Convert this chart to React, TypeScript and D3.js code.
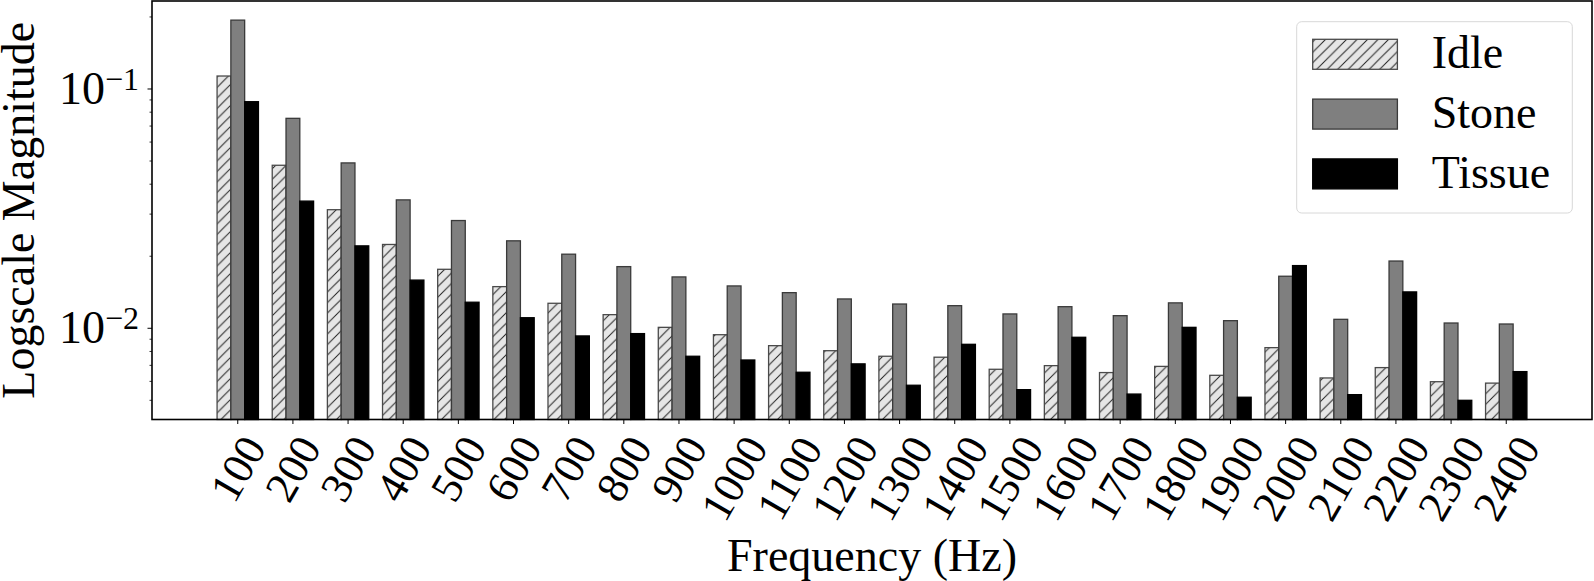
import React from 'react';
import * as d3 from 'd3';

const categories = ['100','200','300','400','500','600','700','800','900','1000','1100','1200','1300','1400','1500','1600','1700','1800','1900','2000','2100','2200','2300','2400'];
const idle = [0.1133,0.048,0.0313,0.0224,0.01764,0.01493,0.01272,0.0114,0.01009,0.0094,0.00846,0.00806,0.00764,0.00757,0.00674,0.00698,0.00653,0.00693,0.00636,0.0083,0.0062,0.00685,0.00598,0.0059];
const stone = [0.194,0.0754,0.0491,0.0344,0.0282,0.0232,0.0204,0.0181,0.01639,0.01503,0.01409,0.01326,0.01263,0.01243,0.01148,0.01231,0.01129,0.01277,0.01076,0.0165,0.0109,0.0191,0.01052,0.01042];
const tissue = [0.0885,0.034,0.0221,0.0159,0.01285,0.01107,0.00929,0.0095,0.00764,0.00737,0.00655,0.0071,0.00578,0.00857,0.00554,0.00917,0.00531,0.01009,0.00515,0.01828,0.00528,0.01419,0.005,0.00659];
const seriesNames = ['Idle','Stone','Tissue'];
const yMajorTicks = [0.1, 0.01];
const yMajorLabels = ['\u22121', '\u22122'];

const W = 1594, H = 581;
const L = 152, R = 1592, T = 1, B = 419.5;
const FONT = "'Liberation Serif', 'Times New Roman', serif";

export default function App() {
  const x = d3.scaleLinear().domain([-1.555, categories.length - 1 + 1.555]).range([L, R]);
  const y = d3.scaleLog().domain([0.004157, 0.2332]).range([B, T]);
  const step = x(1) - x(0);
  const bw = step * 0.25;

  const styles = [
    { fill: 'url(#hatch)', stroke: '#4a4a4a' },
    { fill: '#7f7f7f', stroke: '#3a3a3a' },
    { fill: '#000000', stroke: '#000000' },
  ];
  const series = [idle, stone, tissue];

  const minor: number[] = [];
  for (let d = -3; d <= 0; d++) {
    for (let k = 2; k <= 9; k++) {
      const v = k * Math.pow(10, d);
      if (v > y.domain()[0] && v < y.domain()[1]) minor.push(v);
    }
  }

  const tickFs = 44;
  const labelFs = 46;

  return (
    <svg width={W} height={H} style={{ position: 'absolute', left: 0, top: 0, background: '#fff' }} fontFamily={FONT}>
      <defs>
        <pattern id="hatch" patternUnits="userSpaceOnUse" width={10.5} height={10.5}>
          <rect width={10.5} height={10.5} fill="#e6e6e6" />
          <path d="M-1,11.5 L11.5,-1 M-2,2 L2,-2 M8.5,12.5 L12.5,8.5" stroke="#222" strokeWidth={1} />
        </pattern>
      </defs>
      <rect x={0} y={0} width={W} height={H} fill="#fff" />

      {series.map((vals, s) => (
        <g key={seriesNames[s]}>
          {vals.map((v, i) => {
            const cx = x(i) + (s - 1) * bw;
            const top = y(v);
            return (
              <rect key={i} x={cx - bw / 2} y={top} width={bw} height={B - top}
                fill={styles[s].fill} stroke={styles[s].stroke} strokeWidth={1.3} />
            );
          })}
        </g>
      ))}

      {minor.map((v, i) => (
        <line key={'m' + i} x1={L} x2={L - 2.5} y1={y(v)} y2={y(v)} stroke="#000" strokeWidth={0.8} />
      ))}
      {yMajorTicks.map((v, i) => (
        <g key={'y' + i}>
          <line x1={L} x2={L - 4.5} y1={y(v)} y2={y(v)} stroke="#000" strokeWidth={1} />
          <text x={139} y={y(v) + 15} textAnchor="end" fontSize={labelFs} fill="#000">
            10<tspan dy={-14} fontSize={32}>{yMajorLabels[i]}</tspan>
          </text>
        </g>
      ))}

      {categories.map((c, i) => {
        const inkW = (c.length * 0.5 - 0.13) * tickFs;
        const inkH = 0.68 * tickFs;
        const ext = 0.866 * inkW + 0.5 * inkH;
        const cy = 435 + ext / 2;
        return (
          <g key={'x' + i}>
            <line x1={x(i)} x2={x(i)} y1={B} y2={B + 4.5} stroke="#000" strokeWidth={1} />
            <g transform={`translate(${x(i)},${cy}) rotate(-60)`}>
              <text textAnchor="middle" dy="0.34em" fontSize={tickFs} fill="#000">{c}</text>
            </g>
          </g>
        );
      })}

      <rect x={L} y={T} width={R - L} height={B - T} fill="none" stroke="#000" strokeWidth={1.6} />

      <text x={(L + R) / 2} y={571} textAnchor="middle" fontSize={labelFs} fill="#000">Frequency (Hz)</text>
      <text transform={`translate(34,${(T + B) / 2}) rotate(-90)`} textAnchor="middle" fontSize={labelFs} fill="#000">Logscale Magnitude</text>

      <g>
        <rect x={1296.7} y={21.7} width={275.6} height={191.3} rx={5} ry={5} fill="#fff" fillOpacity={0.8} stroke="#d8d8d8" strokeWidth={1} />
        {seriesNames.map((n, s) => {
          const ty = 39.3 + s * 59.8;
          return (
            <g key={n}>
              <rect x={1312.7} y={ty} width={84.7} height={30} fill={styles[s].fill} stroke={styles[s].stroke} strokeWidth={1.3} />
              <text x={1431.7} y={ty + 29} fontSize={labelFs} fill="#000">{n}</text>
            </g>
          );
        })}
      </g>
    </svg>
  );
}
